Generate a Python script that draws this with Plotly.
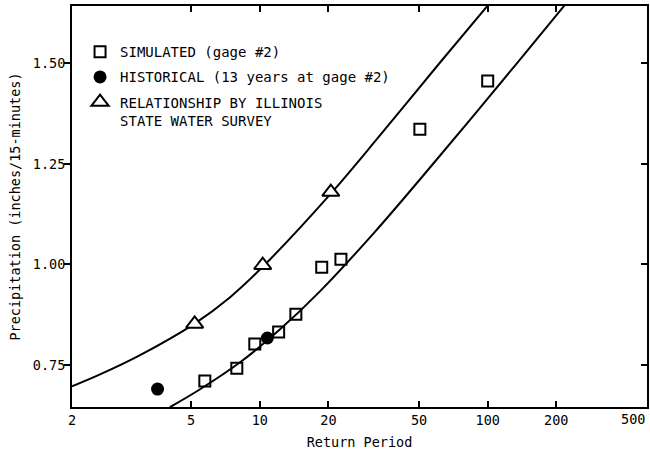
import math
import plotly.graph_objects as go

# Simulated (gage #2)
sim_T = [5.74, 7.93, 9.51, 12.1, 14.4, 18.7, 22.7, 50.4, 100.0]
sim_P = [0.710, 0.742, 0.802, 0.832, 0.876, 0.993, 1.013, 1.336, 1.456]

# Historical (13 years at gage #2)
hist_T = [3.56, 10.8]
hist_P = [0.690, 0.817]

# Relationship by Illinois State Water Survey
isws_T = [5.18, 10.3, 20.5]
isws_P = [0.852, 0.998, 1.180]

# Fitted curves
upper_T = [1.50, 1.98, 2.97, 5.18, 7.39, 10.3, 20.5, 33.6, 61.8, 100.5]
upper_P = [0.697, 0.726, 0.774, 0.853, 0.918, 0.994, 1.176, 1.320, 1.502, 1.645]
lower_T = [4.03, 5.45, 8.17, 12.24, 18.36, 32.0, 57.4, 135.7, 218.0]
lower_P = [0.645, 0.689, 0.756, 0.838, 0.933, 1.081, 1.249, 1.503, 1.645]

x_tickvals = [1.5, 5, 10, 20, 50, 100, 200, 500]
x_ticktext = ["2", "5", "10", "20", "50", "100", "200", ""]
x_last_label = "500"
y_tickvals = [0.75, 1.00, 1.25, 1.50]
y_ticktext = ["0.75", "1.00", "1.25", "1.50"]

x_range = [0.1761, 2.699]
y_range = [0.6455, 1.6425]

FONT = "DejaVu Sans Mono"

fig = go.Figure()
fig.add_trace(go.Scatter(x=upper_T, y=upper_P, mode="lines", line=dict(color="black", width=2, shape="spline"),
                         showlegend=False, hoverinfo="skip"))
fig.add_trace(go.Scatter(x=lower_T, y=lower_P, mode="lines", line=dict(color="black", width=2, shape="spline"),
                         showlegend=False, hoverinfo="skip", yaxis="y2"))
fig.add_trace(go.Scatter(x=sim_T, y=sim_P, mode="markers", name="SIMULATED (gage #2)", legendgroup="a",
                         marker=dict(symbol="square", size=11, color="white", line=dict(color="black", width=2))))
fig.add_trace(go.Scatter(x=hist_T, y=hist_P, mode="markers", name="HISTORICAL (13 years at gage #2)", legendgroup="b",
                         marker=dict(symbol="circle", size=13, color="black", line=dict(color="black", width=0))))
fig.add_trace(go.Scatter(x=isws_T, y=isws_P, mode="markers", name="RELATIONSHIP BY ILLINOIS<br>STATE WATER SURVEY",
                         legendgroup="c",
                         marker=dict(symbol="triangle-up", size=15, color="white", line=dict(color="black", width=2))))

fig.add_annotation(x=math.log10(x_tickvals[-1]), xref="x", y=0, yref="paper", yshift=-2,
                   text=x_last_label, showarrow=False, xanchor="right", yanchor="top",
                   font=dict(family=FONT, size=13.5, color="black"))

fig.update_layout(
    width=650, height=457,
    margin=dict(l=72, r=3, t=6, b=50, autoexpand=False),
    paper_bgcolor="white", plot_bgcolor="white",
    font=dict(family=FONT, size=13.5, color="black"),
    showlegend=True,
    legend=dict(x=0.014, y=0.925, xanchor="left", yanchor="top", bgcolor="rgba(0,0,0,0)",
                traceorder="grouped", tracegroupgap=4, valign="top",
                font=dict(family=FONT, size=14, color="black")),
    xaxis=dict(type="log", range=x_range, tickvals=x_tickvals, ticktext=x_ticktext,
               ticks="inside", ticklen=6, tickwidth=2, tickcolor="black",
               showline=True, linewidth=2, linecolor="black", mirror="ticks",
               showgrid=False, zeroline=False, automargin=False, ticklabeloverflow="allow",
               title=dict(text="Return Period", standoff=10, font=dict(family=FONT, size=13.5))),
    yaxis=dict(range=y_range, tickvals=y_tickvals, ticktext=y_ticktext,
               ticks="outside", ticklen=6, tickwidth=2, tickcolor="black",
               showline=True, linewidth=2, linecolor="black", mirror=True,
               showgrid=False, zeroline=False, automargin=False, ticklabeloverflow="allow",
               ticklabelstandoff=-4,
               title=dict(text="Precipitation (inches/15-minutes)", standoff=9, font=dict(family=FONT, size=13.5))),
    yaxis2=dict(range=y_range, overlaying="y", side="right", tickvals=y_tickvals,
                ticks="inside", ticklen=6, tickwidth=2, tickcolor="black", showticklabels=False,
                showline=False, showgrid=False, zeroline=False, automargin=False),
)

fig.write_html("out.html", config={"displayModeBar": False},
               post_script="document.body.style.margin='0px';")
